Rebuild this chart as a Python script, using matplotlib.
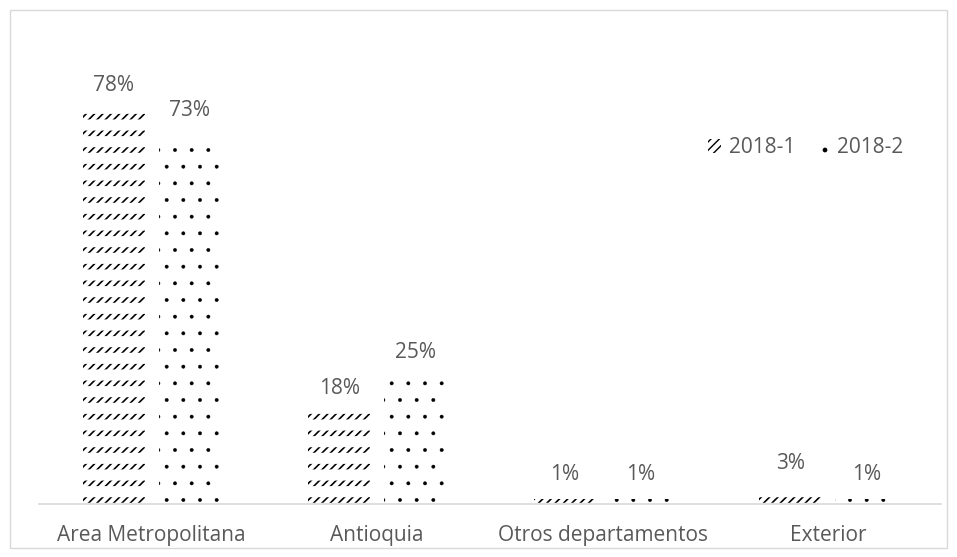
import matplotlib
import matplotlib.pyplot as plt
import numpy as np

plt.rcParams['font.family'] = ['Open Sans', 'DejaVu Sans']

categories = ['Area Metropolitana', 'Antioquia', 'Otros departamentos', 'Exterior']
s2018_1 = [78, 18, 1, 3]
s2018_2 = [73, 25, 1, 1]
series_names = ['2018-1', '2018-2']

gray = '#595959'
W, H = 957, 557

fig = plt.figure(figsize=(W / 100, H / 100), dpi=100)
# axes in pixel units: left 39, right 941, baseline 504, top 50
ax = fig.add_axes([39 / W, (H - 504) / H, 902 / W, 454 / H])

x = np.arange(len(categories))
w = 0.275
off = 0.168
x1 = x - off
x2 = x + off

# 2018-1: short diagonal dashes in rows (black slashes cut by white horizontal bands)
with matplotlib.rc_context({'hatch.linewidth': 1.2}):
    b1 = ax.bar(x1, s2018_1, w, facecolor='white', edgecolor='black',
                linewidth=0, hatch='////', label=series_names[0])
with matplotlib.rc_context({'hatch.linewidth': 8.0}):
    ax.bar(x1, s2018_1, w, facecolor='none', edgecolor='white',
           linewidth=0, hatch='-')
# 2018-2: sparse dots
with matplotlib.rc_context({'hatch.linewidth': 0.3}):
    b2 = ax.bar(x2, s2018_2, w, facecolor='white', edgecolor='black',
                linewidth=0, hatch='.', label=series_names[1])

for bars, vals in ((b1, s2018_1), (b2, s2018_2)):
    for r, v in zip(bars, vals):
        ax.annotate(f'{v}%', (r.get_x() + r.get_width() / 2, v), xytext=(0, 14),
                    textcoords='offset points', ha='center', va='baseline',
                    fontsize=15, color=gray)

ax.set_xlim(-0.5, len(categories) - 0.5)
ax.set_ylim(0, 90)
ax.set_xticks(x, categories, fontsize=15, color=gray)
ax.tick_params(axis='x', length=0, pad=15)
ax.set_yticks([])
for s in ('top', 'left', 'right'):
    ax.spines[s].set_visible(False)
ax.spines['bottom'].set_color('#d9d9d9')
ax.spines['bottom'].set_linewidth(1.2)

leg = fig.legend(handles=[b1, b2], loc='center right',
                 bbox_to_anchor=(914 / W, 1 - 148 / H), ncol=2, frameon=False,
                 fontsize=15, borderpad=0, handlelength=0.62, handleheight=0.62,
                 handletextpad=0.4, columnspacing=1.0, labelcolor=gray)

fig.patches.append(plt.Rectangle((10 / W, 9 / H), 937 / W, 538 / H, transform=fig.transFigure,
                                 fill=False, edgecolor='#d9d9d9', linewidth=1))

fig.savefig('out.png', dpi=100)
